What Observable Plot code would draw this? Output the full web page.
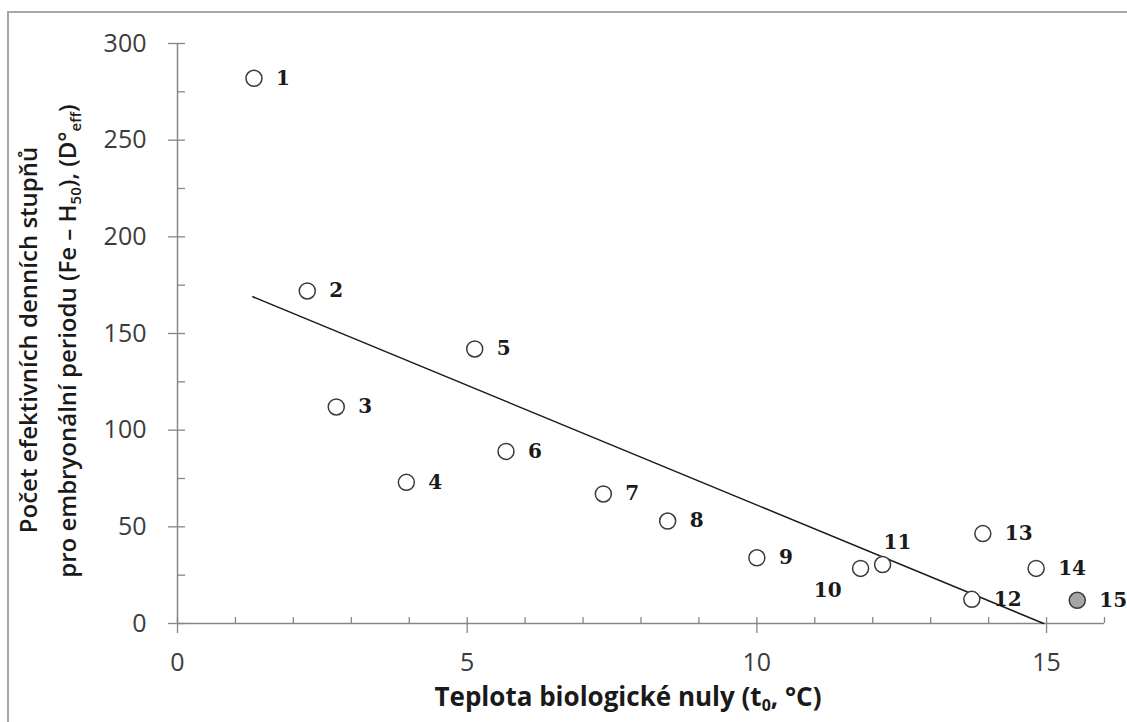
<!DOCTYPE html>
<html><head><meta charset="utf-8">
<script src="https://cdn.jsdelivr.net/npm/d3@7"></script>
<script src="https://cdn.jsdelivr.net/npm/@observablehq/plot@0.6"></script>
<style>
html,body{margin:0;padding:0;background:#fff;overflow:hidden;width:1127px;height:722px;}
#frame{position:absolute;left:7px;top:11px;width:1200px;height:800px;border-left:2px solid #a6a6a6;border-top:2px solid #a6a6a6;}
#chart{position:absolute;left:0;top:0;}
</style></head><body>
<div id="frame"></div><div id="chart"></div>
<script>
// Point identifiers (species / populations)
const ids = [1, 2, 3, 4, 5, 6, 7, 8, 9, 10, 11, 12, 13, 14, 15];
// Teplota biologické nuly t0 (°C)
const tempBase = [1.32, 2.24, 2.74, 3.95, 5.13, 5.67, 7.35, 8.46, 10.0, 11.79, 12.17, 13.71, 13.9, 14.82, 15.53];
// Počet efektivních denních stupňů (D°eff)
const degreeDays = [282, 172, 112, 73, 142, 89, 67, 53, 34, 28.5, 30.5, 12.5, 46.5, 28.5, 12];
// point drawn filled (not part of the fit)
const excludedIds = [15];
// regression line end points
const trendX = [1.3, 14.95];
const trendY = [169, 0];
// ticks
const xMajor = [0, 5, 10, 15];
const xMinor = [1, 2, 3, 4, 6, 7, 8, 9, 11, 12, 13, 14, 16];
const yMajor = [0, 50, 100, 150, 200, 250, 300];
const yMinor = [25, 75, 125, 175, 225, 275];

const pts = ids.map((id, i) => ({id, x: tempBase[i], y: degreeDays[i], open: !excludedIds.includes(id)}));
const trend = trendX.map((x, i) => ({x, y: trendY[i]}));

const axisColor = "#868686";
const tickText = "#3c3c3c";
const labelFont = "'DejaVu Serif', serif";

const plot = Plot.plot({
  width: 1127, height: 722,
  marginLeft: 177, marginRight: 23, marginTop: 43, marginBottom: 99,
  x: {domain: [0, 16]},
  y: {domain: [0, 300]},
  style: {background: "transparent", fontFamily: "'Open Sans', sans-serif"},
  marks: [
    Plot.ruleX([0], {y1: 0, y2: 300, stroke: axisColor, strokeWidth: 1.5}),
    Plot.ruleY([0], {x1: 0, x2: 16, stroke: axisColor, strokeWidth: 1.5}),
    Plot.axisY(yMajor, {tickSize: 17, dx: 8, stroke: axisColor, strokeWidth: 1.3, fill: "none", label: null}),
    Plot.axisY(yMinor, {tickSize: 8, dx: 8, stroke: axisColor, strokeWidth: 1.3, fill: "none", label: null}),
    Plot.axisY(yMajor, {tickSize: 0, tickPadding: 31, fontSize: 25, fill: tickText, label: null}),
    Plot.axisX(xMajor, {tickSize: 16, dy: -6, stroke: axisColor, strokeWidth: 1.3, fill: "none", label: null}),
    Plot.axisX(xMinor, {tickSize: 6, dy: -6, stroke: axisColor, strokeWidth: 1.3, fill: "none", label: null}),
    Plot.axisX(xMajor, {tickSize: 0, tickPadding: 30, fontSize: 25, fill: tickText, label: null}),
    Plot.line(trend, {x: "x", y: "y", stroke: "#1a1a1a", strokeWidth: 1.5}),
    Plot.dot(pts, {filter: d => d.open, x: "x", y: "y", r: 8, stroke: "#3a3a3a", strokeWidth: 1.5, fill: "white"}),
    Plot.dot(pts, {filter: d => !d.open, x: "x", y: "y", r: 8, stroke: "#3a3a3a", strokeWidth: 1.5, fill: "#a6a6a6"}),
    Plot.text(pts, {filter: d => d.id !== 10 && d.id !== 11, x: "x", y: "y", text: d => String(d.id), dx: 22, textAnchor: "start", fontFamily: labelFont, fontWeight: "bold", fontSize: 20, fill: "#1a1a1a"}),
    Plot.text(pts, {filter: d => d.id === 10, x: "x", y: "y", text: d => String(d.id), dx: -19, dy: 22, textAnchor: "end", fontFamily: labelFont, fontWeight: "bold", fontSize: 20, fill: "#1a1a1a"}),
    Plot.text(pts, {filter: d => d.id === 11, x: "x", y: "y", text: d => String(d.id), dx: 1, dy: -22, textAnchor: "start", fontFamily: labelFont, fontWeight: "bold", fontSize: 20, fill: "#1a1a1a"})
  ]
});
document.getElementById("chart").appendChild(plot);

// axis titles with sub/superscripts
const svg = d3.select(plot);
const titleFont = "'Open Sans', sans-serif";
const xt = svg.append("text").attr("x", 628).attr("y", 706).attr("text-anchor", "middle")
  .attr("font-family", titleFont).attr("font-weight", "bold").attr("font-size", 26).attr("fill", "#1a1a1a");
xt.append("tspan").text("Teplota biologické nuly (t");
xt.append("tspan").attr("font-size", 16).attr("dy", 5).text("0");
xt.append("tspan").attr("dy", -5).text(", °C)");

const y1 = svg.append("text").attr("transform", "translate(37,340) rotate(-90)").attr("text-anchor", "middle")
  .attr("font-family", titleFont).attr("font-weight", 600).attr("font-size", 24).attr("fill", "#1a1a1a")
  .text("Počet efektivních denních stupňů");
const y2 = svg.append("text").attr("transform", "translate(76,341) rotate(-90)").attr("text-anchor", "middle")
  .attr("font-family", titleFont).attr("font-weight", 600).attr("font-size", 24).attr("fill", "#1a1a1a");
y2.append("tspan").text("pro embryonální periodu (Fe – H");
y2.append("tspan").attr("font-size", 15).attr("dy", 5).text("50");
y2.append("tspan").attr("dy", -5).text("), (D°");
y2.append("tspan").attr("font-size", 15).attr("dy", 5).text("eff");
y2.append("tspan").attr("dy", -5).text(")");
</script>
</body></html>
